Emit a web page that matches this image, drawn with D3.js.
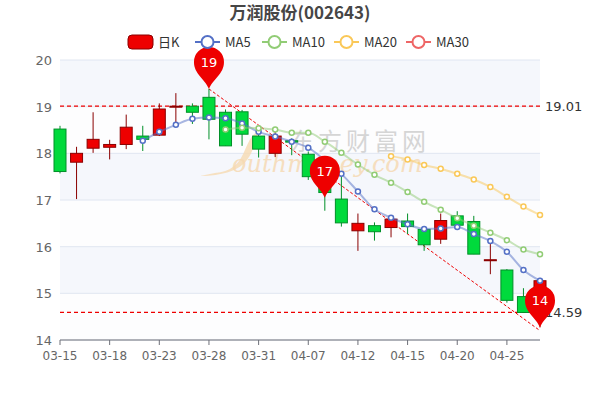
<!DOCTYPE html>
<html><head><meta charset="utf-8">
<script src="https://cdn.jsdelivr.net/npm/d3@7/dist/d3.min.js"></script>
<style>body{margin:0;background:#fff}</style></head>
<body><svg id="c" width="600" height="400"></svg>
<script>
const dates=["03-15","03-16","03-17","03-18","03-21","03-22","03-23","03-24","03-25","03-28","03-29","03-30","03-31","04-01","04-06","04-07","04-08","04-11","04-12","04-13","04-14","04-15","04-18","04-19","04-20","04-21","04-22","04-25","04-26","04-27"];
const openV=[18.52,17.81,18.11,18.13,18.19,18.37,18.39,19.0,19.01,19.2,18.88,18.89,18.37,18.0,18.27,17.98,17.6,17.02,16.34,16.45,16.41,16.55,16.37,16.16,16.66,16.54,15.70,15.5,14.93,14.6];
const closeV=[17.61,18.0,18.30,18.19,18.56,18.30,18.95,19.01,18.88,18.73,18.16,18.41,18.09,18.37,18.24,17.5,17.16,16.51,16.5,16.32,16.59,16.43,16.04,16.56,16.46,15.84,15.72,14.85,14.59,15.27];
const highV=[18.59,18.14,18.88,18.29,18.83,18.59,19.07,19.29,19.07,19.38,18.94,18.93,18.41,18.46,18.32,18.04,17.62,17.57,16.71,16.52,16.64,16.71,16.39,16.71,16.76,16.66,16.06,15.52,15.11,15.33];
const lowV=[17.57,17.02,18.01,17.87,18.09,18.05,18.37,18.61,18.63,18.3,18.16,18.16,17.91,17.92,17.96,17.43,16.77,16.43,15.91,16.13,16.2,16.27,15.91,16.06,16.43,15.84,15.41,14.8,14.59,14.27];
const ma5=[null,null,null,null,null,18.27,18.46,18.61,18.74,18.77,18.75,18.64,18.46,18.36,18.25,18.12,17.85,17.56,17.18,16.80,16.62,16.48,16.38,16.39,16.42,16.27,16.12,15.89,15.50,15.27];
const ma10=[null,null,null,null,null,null,null,null,null,null,18.51,18.55,18.54,18.51,18.44,18.44,18.25,18.01,17.76,17.54,17.37,17.17,16.96,16.79,16.61,16.45,16.30,16.14,15.94,15.84];
const ma20=[null,null,null,null,null,null,null,null,null,null,null,null,null,null,null,null,null,null,null,null,17.94,17.87,17.75,17.67,17.56,17.44,17.28,17.07,16.86,16.68];
const yTicks=[14,15,16,17,18,19,20];
const refLines=[19.01,14.59];
const pins=[{i:9,v:19.38,t:"19"},{i:16,v:17.05,t:"17"},{i:29,v:14.27,t:"14"}];

const svg=d3.select("#c");
const L=60,R=540,T=60,B=340;
const x=d3.scalePoint().domain(dates).range([L,R]);
const y=d3.scaleLinear().domain([14,20]).range([B,T]);
const font="'DejaVu Sans',sans-serif";
// bands
for(let k=0;k<6;k++){svg.append("rect").attr("x",L).attr("width",R-L).attr("y",y(20-k)).attr("height",y(19-k)-y(20-k)).attr("fill",k%2==0?"#f5f7fc":"#fdfdfe");}
svg.append("g").selectAll("line").data(yTicks).join("line").attr("x1",L).attr("x2",R).attr("y1",d=>y(d)).attr("y2",d=>y(d)).attr("stroke","#e0e6f1");
svg.append("g").selectAll("text").data(yTicks).join("text").attr("x",L-8).attr("y",d=>y(d)+5).attr("text-anchor","end").attr("font-size",13).attr("font-family",font).attr("fill","#666").text(d=>d);
// x axis
svg.append("line").attr("x1",L).attr("x2",R).attr("y1",B).attr("y2",B).attr("stroke","#6e7079");
const tIdx=d3.range(0,30,3);
svg.append("g").selectAll("line").data(tIdx).join("line").attr("x1",i=>x(dates[i])).attr("x2",i=>x(dates[i])).attr("y1",B).attr("y2",B+5).attr("stroke","#6e7079");
svg.append("g").selectAll("text").data(tIdx).join("text").attr("x",i=>x(dates[i])).attr("y",B+20).attr("text-anchor","middle").attr("font-size",12).attr("font-family",font).attr("fill","#666").text(i=>dates[i]);
// watermark
svg.append("text").attr("x",290).attr("y",150).attr("font-size",24).attr("font-family","'Noto Sans CJK SC'").attr("fill","#bbb").attr("opacity",0.6).attr("letter-spacing",4).text("东方财富网");
svg.append("path").attr("d","M215,173 C250,170 240,140 260,130 C250,150 255,175 200,176 Z").attr("fill","#f6d9b0").attr("opacity",0.8);
svg.append("text").attr("x",232).attr("y",172).attr("font-size",24).attr("font-style","italic").attr("font-family","'DejaVu Serif',serif").attr("fill","#f6d9b0").attr("opacity",0.8).text("outhmoney.com");
// ref lines
svg.append("g").selectAll("line").data(refLines).join("line").attr("x1",L).attr("x2",R).attr("y1",d=>y(d)).attr("y2",d=>y(d)).attr("stroke","#e00").attr("stroke-dasharray","4,3").attr("stroke-width",1.2);
svg.append("g").selectAll("text").data(refLines).join("text").attr("x",545).attr("y",d=>y(d)+5).attr("font-size",13).attr("font-family",font).attr("fill","#333").text(d=>d.toFixed(2));
// trend line
svg.append("line").attr("x1",x(dates[9])).attr("y1",y(highV[9])).attr("x2",x(dates[29])).attr("y2",y(14.2)).attr("stroke","#e00").attr("stroke-dasharray","3,2");
// candles
const bw=12;
dates.forEach((d,i)=>{
  const up=closeV[i]>=openV[i];const c=up?"#e00":"#00da3c";const sc=up?"#8a0000":"#008f28";
  svg.append("line").attr("x1",x(d)).attr("x2",x(d)).attr("y1",y(highV[i])).attr("y2",y(lowV[i])).attr("stroke",sc);
  const t=y(Math.max(openV[i],closeV[i])),b=y(Math.min(openV[i],closeV[i]));
  svg.append("rect").attr("x",x(d)-bw/2).attr("y",t).attr("width",bw).attr("height",Math.max(1,b-t)).attr("fill",c).attr("stroke",sc);
});
// MAs
const mas=[[ma5,"#5470c6"],[ma10,"#91cc75"],[ma20,"#fac858"]];
mas.forEach(([arr,col])=>{
  const pts=arr.map((v,i)=>[i,v]).filter(p=>p[1]!=null);
  svg.append("path").attr("d",d3.line().x(p=>x(dates[p[0]])).y(p=>y(p[1])).curve(d3.curveMonotoneX)(pts)).attr("fill","none").attr("stroke",col).attr("stroke-width",2).attr("opacity",0.5);
  svg.append("g").selectAll("circle").data(pts).join("circle").attr("cx",p=>x(dates[p[0]])).attr("cy",p=>y(p[1])).attr("r",2.5).attr("fill","#fff").attr("stroke",col).attr("stroke-width",1.5);
});
// pins
pins.forEach(p=>{
  const px=x(dates[p.i]),py=y(p.v);
  const g=svg.append("g").attr("transform",`translate(${px},${py})`);
  g.append("path").attr("d","M0,0 C-4,-10 -15,-15 -15,-27 A15,15 0 1 1 15,-27 C15,-15 4,-10 0,0 Z").attr("fill","#e00");
  g.append("text").attr("y",-22).attr("text-anchor","middle").attr("font-size",13).attr("font-family",font).attr("fill","#fff").text(p.t);
});
// title
svg.append("text").attr("x",300).attr("y",19).attr("text-anchor","middle").attr("font-size",17).attr("font-family","'Noto Sans CJK SC'").attr("fill","#464646").attr("font-weight","bold").text("万润股份(002643)");
// legend
const leg=[["日K","#e00","k"],["MA5","#5470c6"],["MA10","#91cc75"],["MA20","#fac858"],["MA30","#ee6666"]];
const lx=[128,195,262,334,406];
leg.forEach((l,i)=>{
  const g=svg.append("g").attr("transform",`translate(${lx[i]},42)`);
  if(l[2]){g.append("rect").attr("x",0).attr("y",-7).attr("width",25).attr("height",14).attr("rx",4).attr("fill",l[1]).attr("stroke","#8a0000");}
  else{g.append("line").attr("x1",0).attr("x2",25).attr("stroke",l[1]).attr("stroke-width",2);g.append("circle").attr("cx",12.5).attr("r",6).attr("fill","#fff").attr("stroke",l[1]).attr("stroke-width",2);}
  g.append("text").attr("x",30).attr("y",5).attr("font-size",13).attr("font-family","'Noto Sans CJK SC'").attr("fill","#333").text(l[0]);
});
</script></body></html>
